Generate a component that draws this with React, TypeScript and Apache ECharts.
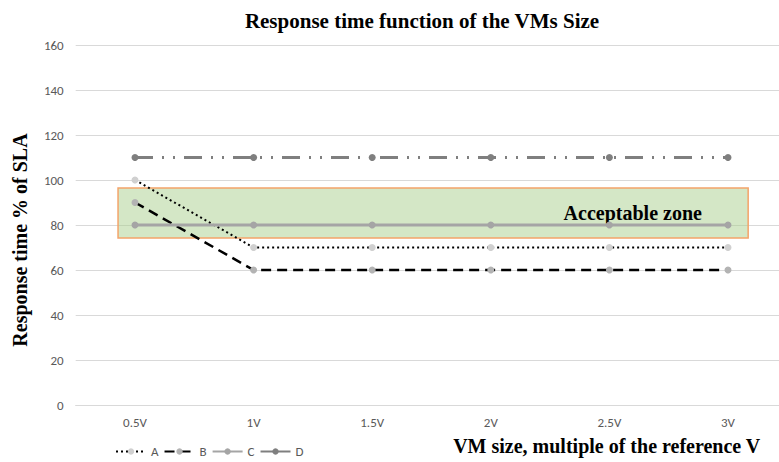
import React, { useEffect, useRef } from "react";
import * as echarts from "echarts";

const categories = ["0.5V", "1V", "1.5V", "2V", "2.5V", "3V"];
const seriesA = [100, 70, 70, 70, 70, 70];
const seriesB = [90, 60, 60, 60, 60, 60];
const seriesC = [80, 80, 80, 80, 80, 80];
const seriesD = [110, 110, 110, 110, 110, 110];
// acceptable zone: [x from, x to] in category-band units, [y high, y low]
const zoneX = [0.357, 5.67];
const zoneY = [96.4, 74.2];
const zoneLabel = "Acceptable zone";

const serif = "'Liberation Serif', 'Times New Roman', serif";
const sans = "Carlito, 'Open Sans', 'Liberation Sans', sans-serif";

export default function App() {
  const ref = useRef<HTMLDivElement>(null);
  useEffect(() => {
    if (!ref.current) return;
    const chart = echarts.init(ref.current, null, { renderer: "svg" });
    chart.setOption({
      animation: false,
      backgroundColor: "#ffffff",
      title: {
        text: "Response time function of the VMs Size",
        left: 417,
        top: 5,
        textAlign: "center",
        textStyle: { fontFamily: serif, fontWeight: "bold", fontSize: 21, color: "#000" },
      },
      grid: {
        left: 75.7,
        top: 45,
        width: 711.6,
        bottom: 57,
        containLabel: false,
        outerBoundsMode: "none",
      },
      graphic: [
        {
          type: "text",
          x: 20,
          y: 240,
          rotation: Math.PI / 2,
          style: {
            text: "Response time % of SLA",
            fontFamily: serif,
            fontWeight: "bold",
            fontSize: 20,
            fill: "#000",
            align: "center",
            verticalAlign: "middle",
          },
        },
      ],
      legend: {
        left: 110,
        top: 440,
        itemWidth: 30,
        itemHeight: 8,
        itemGap: 5,
        textStyle: { fontFamily: sans, fontSize: 13, color: "#595959" },
        data: [
          { name: "A" },
          { name: "B" },
          { name: "C" },
          { name: "D", lineStyle: { type: "solid" } },
        ],
      },
      xAxis: [
        {
          type: "category",
          data: categories,
          boundaryGap: true,
          axisLine: { show: true, lineStyle: { color: "#d9d9d9" } },
          axisTick: { show: false },
          axisLabel: { color: "#595959", fontFamily: sans, fontSize: 13, margin: 11 },
          name: "VM size, multiple of the reference V",
          nameLocation: "end",
          nameGap: 0,
          nameTextStyle: {
            fontFamily: serif,
            fontWeight: "bold",
            fontSize: 20,
            color: "#000",
            align: "right",
            verticalAlign: "top",
            padding: [31, 27, 0, 0],
          },
        },
        { type: "value", min: 0, max: 6, show: false },
      ],
      yAxis: {
        type: "value",
        min: 0,
        max: 160,
        interval: 20,
        axisLine: { show: false },
        axisTick: { show: false },
        splitLine: { lineStyle: { color: "#d9d9d9" } },
        axisLabel: { color: "#595959", fontFamily: sans, fontSize: 13, margin: 12 },
      },
      series: [
        {
          name: "A",
          type: "line",
          data: seriesA,
          symbol: "circle",
          symbolSize: 7,
          itemStyle: { color: "#d0d0d0" },
          lineStyle: { color: "#000", width: 2, type: [2, 3] },
          z: 2,
        },
        {
          name: "B",
          type: "line",
          data: seriesB,
          symbol: "circle",
          symbolSize: 7,
          itemStyle: { color: "#b3b3b3" },
          lineStyle: { color: "#000", width: 2.5, type: [10, 6] },
          z: 2,
        },
        {
          name: "C",
          type: "line",
          data: seriesC,
          symbol: "circle",
          symbolSize: 7,
          itemStyle: { color: "#a5a5a5" },
          lineStyle: { color: "#a5a5a5", width: 3 },
          z: 2,
        },
        {
          name: "D",
          type: "line",
          data: seriesD,
          symbol: "circle",
          symbolSize: 7,
          itemStyle: { color: "#7f7f7f" },
          lineStyle: { color: "#7f7f7f", width: 3, type: [18, 9, 2, 9, 2, 9] },
          z: 2,
        },
        {
          name: "zone",
          type: "line",
          xAxisIndex: 1,
          data: [],
          z: 6,
          silent: true,
          markArea: {
            silent: true,
            itemStyle: {
              color: "rgba(169, 208, 142, 0.5)",
              borderColor: "#f4a46a",
              borderWidth: 1.5,
            },
            label: {
              show: true,
              position: "insideRight",
              distance: 47,
              formatter: zoneLabel,
              fontFamily: serif,
              fontWeight: "bold",
              fontSize: 20,
              color: "#000",
            },
            data: [[{ coord: [zoneX[0], zoneY[0]] }, { coord: [zoneX[1], zoneY[1]] }]],
          },
        },
      ],
    });
    return () => chart.dispose();
  }, []);
  return <div ref={ref} style={{ width: 779, height: 462, position: "absolute", left: 0, top: 0 }} />;
}
